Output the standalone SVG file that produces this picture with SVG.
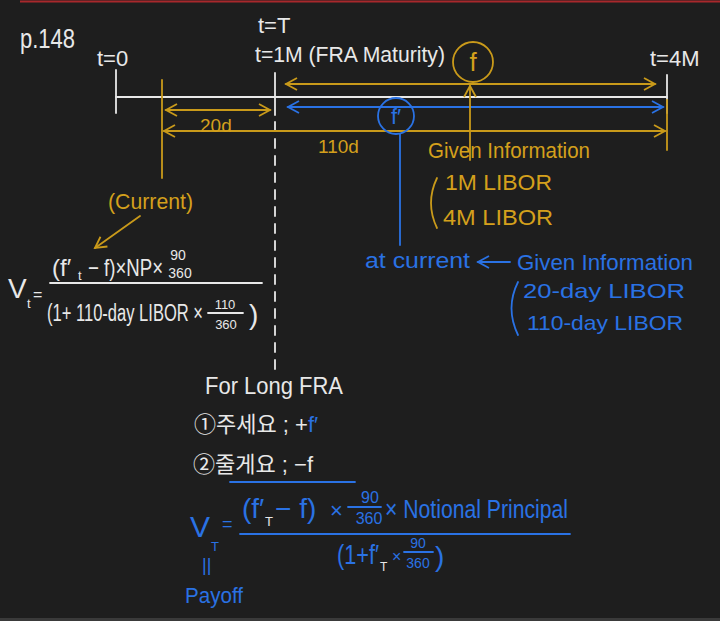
<svg xmlns="http://www.w3.org/2000/svg" width="720" height="621" viewBox="0 0 720 621">
<defs>
<style>
text{font-family:"Liberation Sans","Noto Sans CJK KR",sans-serif}
.w{fill:#e8e8e8}.g{fill:#d4a01c}.b{fill:#2a72e4}
.sw{stroke:#e8e8e8;stroke-width:1.8;fill:none;stroke-linecap:round}
.sg{stroke:#c99a1a;stroke-width:1.8;fill:none;stroke-linecap:round}
.sb{stroke:#2a72e4;stroke-width:1.8;fill:none;stroke-linecap:round}
</style>
<marker id="ag" markerUnits="userSpaceOnUse" markerWidth="14" markerHeight="14" refX="12" refY="7" orient="auto-start-reverse"><path d="M1,1 L12,7 L1,13" fill="none" stroke="#c99a1a" stroke-width="1.8"/></marker>
<marker id="ab" markerUnits="userSpaceOnUse" markerWidth="14" markerHeight="14" refX="12" refY="7" orient="auto-start-reverse"><path d="M1,1 L12,7 L1,13" fill="none" stroke="#2a72e4" stroke-width="1.8"/></marker>
</defs>
<rect width="720" height="621" fill="#1e1e1e"/>
<line x1="20" y1="1.5" x2="720" y2="1.5" stroke="#a8282c" stroke-width="2"/>
<rect x="0" y="618" width="720" height="3" fill="#3a3a3a"/>

<g id="connectors">
<line class="sw" x1="116" y1="97" x2="667" y2="97"/>
<line class="sw" x1="116" y1="70" x2="116" y2="113"/>
<line class="sw" x1="667" y1="75" x2="667" y2="113"/>
<line class="sw" x1="275" y1="73" x2="275" y2="115"/>
<line class="sw" x1="275" y1="122" x2="275" y2="372" stroke-dasharray="9 8"/>
<line class="sg" x1="162" y1="80" x2="162" y2="178"/>
<line class="sg" x1="667" y1="100" x2="667" y2="150"/>
<line class="sg" x1="286" y1="84" x2="655" y2="84" marker-start="url(#ag)" marker-end="url(#ag)"/>
<line class="sb" x1="288" y1="107" x2="663" y2="107" marker-start="url(#ab)" marker-end="url(#ab)"/>
<line class="sg" x1="166" y1="110" x2="270" y2="110" marker-start="url(#ag)" marker-end="url(#ag)"/>
<line class="sg" x1="164" y1="131" x2="665" y2="131" marker-start="url(#ag)" marker-end="url(#ag)"/>
<line class="sg" x1="470" y1="160" x2="470" y2="86" marker-end="url(#ag)"/>
<line class="sb" x1="400" y1="134" x2="400" y2="245"/>
<line class="sg" x1="140" y1="216" x2="95" y2="248" marker-end="url(#ag)"/>
<line class="sb" x1="510" y1="262" x2="478" y2="262" marker-end="url(#ab)"/>
<line class="sb" x1="230" y1="482" x2="355" y2="482"/>
</g>

<g id="page"><text class="w" x="20" y="48" font-size="28" textLength="55" lengthAdjust="spacingAndGlyphs">p.148</text></g>
<g id="t0"><text class="w" x="97" y="66" font-size="22">t=0</text></g>
<g id="tT"><text class="w" x="258" y="33" font-size="22">t=T</text>
<text class="w" x="255" y="62" font-size="22" textLength="190" lengthAdjust="spacingAndGlyphs">t=1M (FRA Maturity)</text></g>
<g id="t4M"><text class="w" x="650" y="66" font-size="22">t=4M</text></g>

<g id="f-node"><circle class="sg" cx="473" cy="62" r="20"/><text class="g" x="473" y="71" font-size="26" text-anchor="middle">f</text></g>
<g id="fprime-node"><circle class="sb" cx="396" cy="116" r="18"/><text class="b" x="396" y="124" font-size="22" text-anchor="middle">f′</text></g>

<g id="d20"><text class="g" x="200" y="132" font-size="19">20d</text></g>
<g id="d110"><text class="g" x="318" y="153" font-size="19">110d</text></g>

<g id="given-gold">
<text class="g" x="428" y="158" font-size="22" textLength="162" lengthAdjust="spacingAndGlyphs">Given Information</text>
<path class="sg" d="M437,178 Q425,203 437,228"/>
<text class="g" x="445" y="190" font-size="22" textLength="107" lengthAdjust="spacingAndGlyphs">1M LIBOR</text>
<text class="g" x="443" y="225" font-size="22" textLength="110" lengthAdjust="spacingAndGlyphs">4M LIBOR</text>
</g>

<g id="current"><text class="g" x="108" y="209" font-size="22" textLength="85" lengthAdjust="spacingAndGlyphs">(Current)</text></g>

<g id="given-blue">
<text class="b" x="365" y="268" font-size="22" textLength="105" lengthAdjust="spacingAndGlyphs">at current</text>
<text class="b" x="517" y="270" font-size="22" textLength="176" lengthAdjust="spacingAndGlyphs">Given Information</text>
<path class="sb" d="M518,282 Q505,308 518,335"/>
<text class="b" x="523" y="298" font-size="21" textLength="162" lengthAdjust="spacingAndGlyphs">20-day LIBOR</text>
<text class="b" x="527" y="330" font-size="21" textLength="156" lengthAdjust="spacingAndGlyphs">110-day LIBOR</text>
</g>

<g id="vt-formula">
<text class="w" x="8" y="298" font-size="28">V</text>
<text class="w" x="27" y="308" font-size="13">t</text>
<text class="w" x="33" y="300" font-size="16">=</text>
<text class="w" x="52" y="276" font-size="24">(f′</text>
<text class="w" x="78" y="280" font-size="13">t</text>
<text class="w" x="88" y="276" font-size="24" textLength="75" lengthAdjust="spacingAndGlyphs">− f)×NP×</text>
<text class="w" x="178" y="260" font-size="14" text-anchor="middle">90</text>
<text class="w" x="180" y="278" font-size="14" text-anchor="middle">360</text>
<line class="sw" x1="50" y1="283" x2="262" y2="283" stroke-width="1.4"/>
<text class="w" x="47" y="321" font-size="23" textLength="156" lengthAdjust="spacingAndGlyphs">(1+ 110-day LIBOR ×</text>
<text class="w" x="225" y="309" font-size="13" text-anchor="middle">110</text>
<line class="sw" x1="208" y1="313" x2="243" y2="313" stroke-width="1.2"/>
<text class="w" x="226" y="329" font-size="13" text-anchor="middle">360</text>
<text class="w" x="249" y="324" font-size="28">)</text>
</g>

<g id="long-fra">
<text class="w" x="205" y="394" font-size="24" textLength="138" lengthAdjust="spacingAndGlyphs">For Long FRA</text>
<text class="w" x="194" y="432" font-size="22">①주세요 ; +<tspan class="b">f′</tspan></text>
<text class="w" x="193" y="472" font-size="22">②줄게요 ; −f</text>
</g>

<g id="vT-formula">
<text class="b" x="190" y="537" font-size="30">V</text>
<text class="b" x="211" y="551" font-size="13">T</text>
<text class="b" x="222" y="530" font-size="18">=</text>
<text class="b" x="242" y="518" font-size="28">(f′</text>
<text class="w" x="265" y="526" font-size="13">T</text>
<text class="b" x="275" y="518" font-size="28">− f)</text>
<text class="b" x="330" y="518" font-size="22">×</text>
<text class="b" x="370" y="503" font-size="16" text-anchor="middle">90</text>
<line class="sb" x1="348" y1="507" x2="381" y2="507" stroke-width="1.2"/>
<text class="b" x="369" y="524" font-size="16" text-anchor="middle">360</text>
<text class="b" x="385" y="518" font-size="26" textLength="183" lengthAdjust="spacingAndGlyphs">× Notional Principal</text>
<line class="sb" x1="240" y1="534" x2="570" y2="534"/>
<text class="b" x="337" y="564" font-size="28" textLength="42" lengthAdjust="spacingAndGlyphs">(1+f′</text>
<text class="w" x="380" y="571" font-size="12">T</text>
<text class="b" x="392" y="562" font-size="16">×</text>
<text class="b" x="418" y="548" font-size="14" text-anchor="middle">90</text>
<line class="sb" x1="404" y1="552" x2="433" y2="552" stroke-width="1.2"/>
<text class="b" x="418" y="568" font-size="14" text-anchor="middle">360</text>
<text class="b" x="435" y="566" font-size="28">)</text>
<text class="b" x="202" y="571" font-size="18">||</text>
<text class="b" x="185" y="603" font-size="22" textLength="58" lengthAdjust="spacingAndGlyphs">Payoff</text>
</g>
</svg>
